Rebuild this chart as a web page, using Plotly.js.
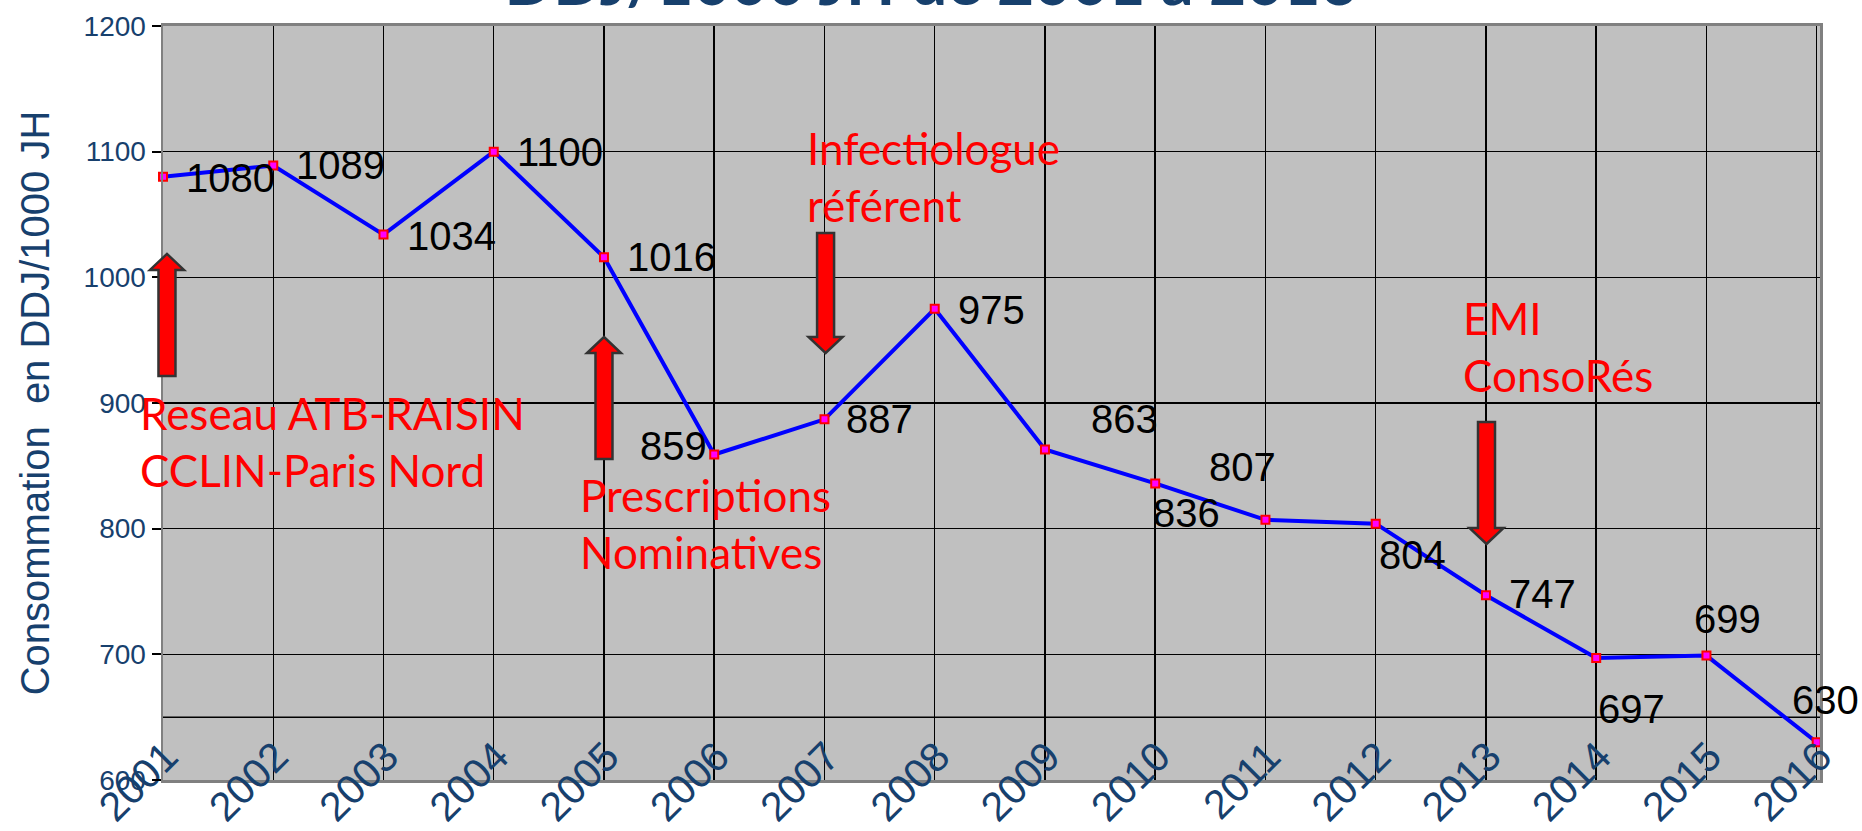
<!DOCTYPE html>
<html>
<head>
<meta charset="utf-8">
<script src="https://cdn.plot.ly/plotly-3.0.1.min.js"></script>
<style>html,body{margin:0;padding:0;background:#fff;}#chart{width:1862px;height:831px;}</style>
</head>
<body>
<div id="chart"></div>
<script>
// ---- data ----
var years = [2001,2002,2003,2004,2005,2006,2007,2008,2009,2010,2011,2012,2013,2014,2015,2016];
var values = [1080,1089,1034,1100,1016,859,887,975,863,836,807,804,747,697,699,630];
var yTicks = [600,700,800,900,1000,1100,1200];
var eventTexts = ["Reseau ATB-RAISIN<br>CCLIN-Paris Nord", "Prescriptions<br>Nominatives", "Infectiologue<br>référent", "EMI<br>ConsoRés"];

// ---- label placement (pixels, relative to each point) ----
var labelPos = [
  {a:'left', dx:21, dy:-1}, {a:'left', dx:21, dy:0}, {a:'left', dx:22, dy:-1}, {a:'left', dx:21, dy:0},
  {a:'left', dx:21, dy:0}, {a:'right', dx:-5, dy:9}, {a:'left', dx:20, dy:0}, {a:'left', dx:21, dy:-1},
  {a:'left', dx:44, dy:31}, {a:'left', dx:-4, dy:-30}, {a:'left', dx:-58, dy:53}, {a:'left', dx:1, dy:-31},
  {a:'left', dx:21, dy:1}, {a:'left', dx:0, dy:-51}, {a:'left', dx:-14, dy:37}, {a:'left', dx:-27, dy:42}
];
// event text positions (data units + pixel shift) and arrows (tip in data units, direction)
var eventPos = [{x:2001, y:914, dx:-25}, {x:2005, y:849, dx:-26}, {x:2007, y:1125, dx:-19}, {x:2013, y:990, dx:-25}];
var arrows = [
  {x:2001.036, y:1018.6, dir:'up', len:122},
  {x:2005.0, y:952.5, dir:'up', len:122},
  {x:2007.01, y:939.8, dir:'down', len:120},
  {x:2013.005, y:787.8, dir:'down', len:122}
];

var xRange = [2001, 2016.03], yRange = [600, 1200];
var navy = '#17406D';
var annotations = [];
years.forEach(function(yr, i){
  var p = labelPos[i];
  annotations.push({
    x: yr, y: values[i], xref:'x', yref:'y', text: String(values[i]), showarrow:false,
    xanchor: p.a, yanchor:'middle', xshift: p.dx, yshift: p.dy,
    font:{family:'Liberation Sans, Arial, sans-serif', size:40, color:'#000'}
  });
});
eventTexts.forEach(function(t, i){
  annotations.push({
    x: eventPos[i].x, y: eventPos[i].y, xref:'x', yref:'y', xshift:eventPos[i].dx, text:t, showarrow:false,
    xanchor:'left', yanchor:'top', align:'left',
    font:{family:'Lato, Calibri, sans-serif', size:44, color:'#FF0000'}
  });
});

function arrowPath(dir, len){
  var s = dir === 'up' ? -1 : 1; // pixel y positive = up
  var hh = 16, hw = 17, sw = 8.5;
  return 'M 0,0 L ' + hw + ',' + (s*hh) + ' L ' + sw + ',' + (s*hh) + ' L ' + sw + ',' + (s*len) +
         ' L ' + (-sw) + ',' + (s*len) + ' L ' + (-sw) + ',' + (s*hh) + ' L ' + (-hw) + ',' + (s*hh) + ' Z';
}
var shapes = [
  {type:'line', xref:'paper', x0:0, x1:1, yref:'y', y0:650, y1:650, line:{color:'#000', width:1.5}, layer:'below'}
];
arrows.forEach(function(a){
  shapes.push({
    type:'path', xsizemode:'pixel', ysizemode:'pixel', xref:'paper', yref:'paper',
    xanchor:(a.x - xRange[0])/(xRange[1]-xRange[0]), yanchor:(a.y - yRange[0])/(yRange[1]-yRange[0]),
    path: arrowPath(a.dir, a.len), fillcolor:'#FF0000', line:{color:'#333333', width:2.5}, layer:'above'
  });
});

var trace = {
  x: years, y: values, type:'scatter', mode:'lines+markers',
  line:{color:'#0000FF', width:4},
  marker:{symbol:'square', size:8, color:'#FF00FF', line:{color:'#FF0000', width:2}},
  cliponaxis:false, hoverinfo:'x+y'
};

var layout = {
  width:1862, height:831,
  margin:{l:163, r:42, t:26, b:51, pad:0},
  paper_bgcolor:'#FFFFFF', plot_bgcolor:'#C0C0C0',
  showlegend:false,
  title:{text:'<b>DDJ/1000 JH de 2001 à 2016</b>', x:0.5, xref:'container', y:0.994, yref:'container', yanchor:'bottom',
         font:{family:'Lato, Calibri, sans-serif', size:64, color:navy}},
  xaxis:{
    type:'linear', range:xRange, tickmode:'array', tickvals:years, ticktext:years.map(String),
    tickangle:-45, tickfont:{family:'Liberation Sans, Arial, sans-serif', size:41, color:navy},
    ticks:'', ticklabelstandoff:-67, ticklabelshift:3,
    showgrid:true, gridcolor:'#000000', gridwidth:1.5,
    showline:true, linecolor:'#808080', linewidth:3, mirror:true, zeroline:false
  },
  yaxis:{
    range:yRange, tickmode:'array', tickvals:yTicks, ticktext:yTicks.map(String),
    tickfont:{family:'Liberation Sans, Arial, sans-serif', size:28, color:navy},
    ticks:'outside', ticklen:9, tickwidth:2, tickcolor:'#000',
    showgrid:true, gridcolor:'#000000', gridwidth:1.5,
    showline:true, linecolor:'#808080', linewidth:2.5, mirror:true, zeroline:false,
    title:{text:'Consommation&nbsp; en DDJ/1000 JH', standoff:22, font:{family:'Liberation Sans, Arial, sans-serif', size:40, color:navy}}
  },
  annotations: annotations,
  shapes: shapes
};

Plotly.newPlot('chart', [trace], layout, {displayModeBar:false, staticPlot:true});
</script>
</body>
</html>
